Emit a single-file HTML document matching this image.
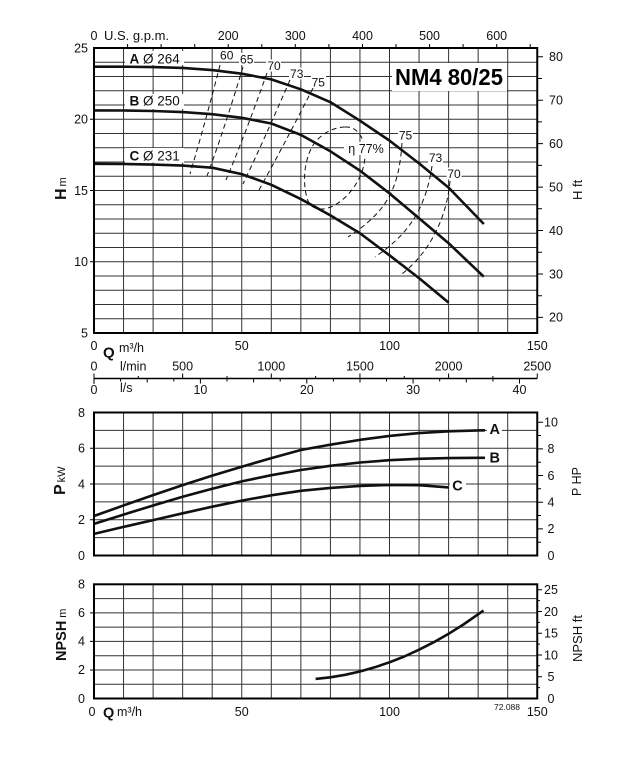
<!DOCTYPE html>
<html><head><meta charset="utf-8">
<style>
html,body{margin:0;padding:0;background:#fff;}
svg{display:block;font-family:"Liberation Sans",Arial,sans-serif;}
</style></head>
<body>
<svg width="626" height="776" viewBox="0 0 626 776" xmlns="http://www.w3.org/2000/svg">
<rect width="626" height="776" fill="#fff"/>

<!-- ===== GRIDS ===== -->
<g stroke="#333" stroke-width="1" fill="none">
<path d="M123.55 48V333M153.1 48V333M182.65 48V333M212.2 48V333M241.75 48V333M271.3 48V333M300.85 48V333M330.4 48V333M359.95 48V333M389.5 48V333M419.05 48V333M448.6 48V333M478.15 48V333M507.7 48V333"/>
<path d="M94 318.75H537M94 304.5H537M94 290.25H537M94 276H537M94 261.75H537M94 247.5H537M94 233.25H537M94 219H537M94 204.75H537M94 190.5H537M94 176.25H537M94 162H537M94 147.75H537M94 133.5H537M94 119.25H537M94 105H537M94 90.75H537M94 76.5H537M94 62.25H537"/>
<path d="M123.55 412.5V555.5M153.1 412.5V555.5M182.65 412.5V555.5M212.2 412.5V555.5M241.75 412.5V555.5M271.3 412.5V555.5M300.85 412.5V555.5M330.4 412.5V555.5M359.95 412.5V555.5M389.5 412.5V555.5M419.05 412.5V555.5M448.6 412.5V555.5M478.15 412.5V555.5M507.7 412.5V555.5"/>
<path d="M94 430.4H537M94 448.25H537M94 466.1H537M94 484H537M94 501.9H537M94 519.75H537M94 537.6H537"/>
<path d="M123.55 584.3V698.5M153.1 584.3V698.5M182.65 584.3V698.5M212.2 584.3V698.5M241.75 584.3V698.5M271.3 584.3V698.5M300.85 584.3V698.5M330.4 584.3V698.5M359.95 584.3V698.5M389.5 584.3V698.5M419.05 584.3V698.5M448.6 584.3V698.5M478.15 584.3V698.5M507.7 584.3V698.5"/>
<path d="M94 598.6H537M94 612.9H537M94 627.1H537M94 641.4H537M94 655.7H537M94 670H537M94 684.2H537"/>
</g>

<!-- ===== EFFICIENCY DASHED LINES ===== -->
<g stroke="#111" stroke-width="1" fill="none" stroke-dasharray="5 3.5">
<path d="M220,65 Q206,120 190,174"/>
<path d="M243,67 Q224,130 207,176"/>
<path d="M267,73 Q245,135 226,180"/>
<path d="M290,80 Q264,140 243,184"/>
<path d="M313,88 Q284,145 259,190"/>
<path d="M345,127 C358,126 366,140 365,157 C364,175 352,195 335,205 C322,212 310,210 307,198 C302,180 305,160 312,147 C318,136 332,127 345,127 Z"/>
<path d="M402,143 C399,185 390,210 348,237"/>
<path d="M432,166 C426,205 412,232 375,257"/>
<path d="M450,181 C447,215 432,250 402,274"/>
</g>

<!-- ===== WHITE LABEL BOXES ===== -->
<g fill="#fff">
<rect x="125" y="51" width="59" height="14"/>
<rect x="125" y="94" width="59" height="15"/>
<rect x="125" y="148" width="59" height="14.5"/>
<rect x="219" y="49" width="15" height="12"/>
<rect x="239" y="53" width="15" height="12"/>
<rect x="266" y="59.5" width="15" height="12"/>
<rect x="289" y="67.5" width="15" height="12"/>
<rect x="311" y="76" width="15" height="12"/>
<rect x="398" y="129" width="15" height="12"/>
<rect x="428" y="151.5" width="15" height="12"/>
<rect x="446.5" y="167.5" width="15" height="12"/>
<rect x="344" y="142" width="45" height="13"/>
<rect x="392" y="63" width="115" height="28"/>
<rect x="487" y="421" width="15" height="15"/>
<rect x="487" y="449" width="15" height="15"/>
<rect x="450" y="478" width="16" height="15"/>
</g>

<!-- ===== CURVES ===== -->
<g stroke="#111" stroke-width="2.6" fill="none" stroke-linejoin="round" stroke-linecap="butt">
<polyline points="94,66.67 123.55,66.7 153.1,67.1 182.65,67.95 212.2,70.1 241.75,73.7 271.3,79.35 300.85,89.3 330.4,102.15 359.95,120.7 389.5,140.6 419.05,163.4 448.6,187.65 478.15,218.15 483.8,224"/>
<polyline points="94,110.4 123.55,110.5 153.1,110.99 182.65,112.1 212.2,114.2 241.75,117.8 271.3,123.5 300.85,134.9 330.4,151.3 359.95,170.6 389.5,193.35 419.05,218.3 448.6,243.2 478.15,271.3 483.8,276.7"/>
<polyline points="94,163.85 123.55,164 153.1,164.6 182.65,165.6 212.2,167.7 241.75,174.1 271.3,184.8 300.85,199.05 330.4,215.4 359.95,233.25 389.5,255.35 419.05,278.1 448.6,302.6"/>

<polyline points="94,516 123.55,505.45 153.1,495.1 182.65,485.1 212.2,475.6 241.75,466.7 271.3,458.1 300.85,450 330.4,444.7 359.95,439.85 389.5,435.9 419.05,433.1 448.6,431.3 478.15,430.4 485,430.3"/>
<polyline points="94,523.9 123.55,514.6 153.1,505.5 182.65,496.8 212.2,488.7 241.75,481.4 271.3,475.2 300.85,470 330.4,465.8 359.95,462.5 389.5,460.2 419.05,458.8 448.6,458.1 478.15,457.8 485,457.8"/>
<polyline points="94,533.9 123.55,526.9 153.1,520.1 182.65,513.3 212.2,506.7 241.75,500.6 271.3,495.3 300.85,490.8 330.4,487.9 359.95,485.9 389.5,484.9 419.05,485.2 448.6,487.4"/>

<polyline points="315.6,678.94 330.4,677.3 345.2,674.8 359.95,671.5 374.7,667.3 389.5,662.3 404.3,656.5 419.05,649.7 433.8,642.2 448.6,633.8 463.4,624.5 483.5,610.6"/>
</g>

<!-- ===== FRAMES ===== -->
<g stroke="#000" stroke-width="2" fill="none">
<rect x="94" y="48" width="443.25" height="285"/>
<rect x="94" y="412.5" width="443.25" height="143"/>
<rect x="94" y="584.3" width="443.25" height="114.2"/>
</g>

<!-- ===== TICKS ===== -->
<g stroke="#000" stroke-width="1" fill="none">
<path d="M127.6 48V44M161.1 48V44M194.7 48V44M228.2 48V44M261.8 48V44M295.3 48V44M328.9 48V44M362.5 48V44M396 48V44M429.6 48V44M463.1 48V44M496.7 48V44M530.2 48V44"/>
<path d="M90 119.25H94M90 190.5H94M90 261.75H94"/>
<path d="M537 56.8H543M537 78.5H542M537 100.2H543M537 121.9H542M537 143.6H543M537 165.4H542M537 187.1H543M537 208.8H542M537 230.5H543M537 252.2H542M537 273.95H543M537 295.7H542M537 317.4H543"/>
<path d="M90 448.25H94M90 484H94M90 519.75H94"/>
<path d="M537 542.2H541M537 528.85H543M537 515.5H541M537 502.2H543M537 488.8H541M537 475.5H543M537 462.2H541M537 448.9H543M537 435.5H541M537 422.2H543"/>
<path d="M90 612.9H94M90 641.4H94M90 670H94"/>
<path d="M537 687.6H540M537 676.7H542M537 665.8H540M537 655H542M537 644.1H540M537 633.2H542M537 622.4H540M537 611.5H542M537 600.6H540M537 589.7H542"/>
</g>

<!-- middle Q axis -->
<g stroke="#000" fill="none">
<path d="M94 378.5H537.25" stroke-width="1.5"/>
<path stroke-width="1" d="M94 373.5V384M182.65 378.5V373.5M271.3 378.5V373.5M359.95 378.5V373.5M448.6 378.5V373.5M537.25 378.5V373.5M138.3 378.5V376M227 378.5V376M315.6 378.5V376M404.3 378.5V376M492.9 378.5V376M120.6 378.5V381.5M147.2 378.5V382.5M173.8 378.5V381.5M200.4 378.5V383.5M227 378.5V381.5M253.6 378.5V382.5M280.2 378.5V381.5M306.8 378.5V383.5M333.4 378.5V381.5M360 378.5V382.5M386.5 378.5V381.5M413.1 378.5V383.5M439.7 378.5V381.5M466.3 378.5V382.5M492.9 378.5V381.5M519.5 378.5V383.5"/>
</g>

<!-- ===== TEXT ===== -->
<g fill="#111" font-size="12.5">
<text x="94" y="40" text-anchor="middle">0</text>
<text x="104" y="40" font-size="13">U.S. g.p.m.</text>
<text x="228.2" y="40" text-anchor="middle">200</text>
<text x="295.3" y="40" text-anchor="middle">300</text>
<text x="362.5" y="40" text-anchor="middle">400</text>
<text x="429.6" y="40" text-anchor="middle">500</text>
<text x="496.7" y="40" text-anchor="middle">600</text>

<g text-anchor="end">
<text x="88" y="52.3">25</text>
<text x="88" y="123.5">20</text>
<text x="88" y="194.8">15</text>
<text x="88" y="266">10</text>
<text x="88" y="337.3">5</text>
</g>
<text x="549" y="61.1">80</text>
<text x="549" y="104.5">70</text>
<text x="549" y="147.9">60</text>
<text x="549" y="191.4">50</text>
<text x="549" y="234.8">40</text>
<text x="549" y="278.3">30</text>
<text x="549" y="321.7">20</text>

<text x="94" y="350" text-anchor="middle">0</text>
<text x="103" y="357.5" font-size="15" font-weight="bold">Q</text>
<text x="119" y="352" font-size="12.5">m³/h</text>
<text x="241.75" y="350" text-anchor="middle">50</text>
<text x="389.5" y="350" text-anchor="middle">100</text>
<text x="537.25" y="350" text-anchor="middle">150</text>

<text x="94" y="370.5" text-anchor="middle">0</text>
<text x="120" y="370.5">l/min</text>
<text x="182.65" y="370.5" text-anchor="middle">500</text>
<text x="271.3" y="370.5" text-anchor="middle">1000</text>
<text x="359.95" y="370.5" text-anchor="middle">1500</text>
<text x="448.6" y="370.5" text-anchor="middle">2000</text>
<text x="537.25" y="370.5" text-anchor="middle">2500</text>
<text x="94" y="394" text-anchor="middle">0</text>
<text x="120" y="392">l/s</text>
<text x="200.4" y="394" text-anchor="middle">10</text>
<text x="306.8" y="394" text-anchor="middle">20</text>
<text x="413.1" y="394" text-anchor="middle">30</text>
<text x="519.5" y="394" text-anchor="middle">40</text>

<g text-anchor="end">
<text x="85" y="416.8">8</text>
<text x="85" y="452.5">6</text>
<text x="85" y="488.3">4</text>
<text x="85" y="524">2</text>
<text x="85" y="559.8">0</text>
</g>
<g text-anchor="middle">
<text x="551" y="426.5">10</text>
<text x="551" y="453.2">8</text>
<text x="551" y="479.8">6</text>
<text x="551" y="506.5">4</text>
<text x="551" y="533.2">2</text>
<text x="551" y="559.8">0</text>
</g>

<g text-anchor="end">
<text x="85" y="588.6">8</text>
<text x="85" y="617.2">6</text>
<text x="85" y="645.7">4</text>
<text x="85" y="674.2">2</text>
<text x="85" y="702.8">0</text>
</g>
<g text-anchor="middle">
<text x="551" y="594">25</text>
<text x="551" y="615.8">20</text>
<text x="551" y="637.5">15</text>
<text x="551" y="659.3">10</text>
<text x="551" y="681">5</text>
<text x="551" y="702.8">0</text>
</g>

<text x="92" y="716" text-anchor="middle">0</text>
<text x="103" y="717.5" font-size="14.5" font-weight="bold">Q</text>
<text x="117" y="716">m³/h</text>
<text x="241.75" y="716" text-anchor="middle">50</text>
<text x="389.5" y="716" text-anchor="middle">100</text>
<text x="537.25" y="716" text-anchor="middle">150</text>
<text x="494" y="710" font-size="8.5">72.088</text>

<text x="129.5" y="63.7" font-size="13.5"><tspan font-weight="bold">A</tspan> Ø 264</text>
<text x="129.5" y="105.7" font-size="13.5"><tspan font-weight="bold">B</tspan> Ø 250</text>
<text x="129.5" y="160.7" font-size="13.5"><tspan font-weight="bold">C</tspan> Ø 231</text>

<g text-anchor="middle" font-size="12">
<text x="226.7" y="59.3">60</text>
<text x="246.7" y="63.3">65</text>
<text x="274" y="69.8">70</text>
<text x="296.7" y="78">73</text>
<text x="318.3" y="86.5">75</text>
<text x="405.5" y="139.3">75</text>
<text x="435.5" y="161.8">73</text>
<text x="454" y="177.8">70</text>
</g>
<text x="366" y="153" text-anchor="middle" font-size="12.5">η 77%</text>

<text x="395" y="85" font-size="23" font-weight="bold" textLength="108" lengthAdjust="spacingAndGlyphs" fill="#000">NM4 80/25</text>

<text x="489.5" y="434.2" font-size="14.5" font-weight="bold">A</text>
<text x="489.5" y="462.3" font-size="14.5" font-weight="bold">B</text>
<text x="452.3" y="490.7" font-size="14.5" font-weight="bold">C</text>

<text transform="translate(66,200) rotate(-90)"><tspan font-size="16" font-weight="bold">H</tspan><tspan font-size="11" dx="2">m</tspan></text>
<text transform="translate(582,200) rotate(-90)" font-size="13">H ft</text>
<text transform="translate(65,495) rotate(-90)"><tspan font-size="16" font-weight="bold">P</tspan><tspan font-size="11" dx="2">kW</tspan></text>
<text transform="translate(581,496) rotate(-90)" font-size="12.5">P HP</text>
<text transform="translate(66,661) rotate(-90)"><tspan font-size="14.5" font-weight="bold">NPSH</tspan><tspan font-size="11" dx="3">m</tspan></text>
<text transform="translate(582,662) rotate(-90)" font-size="13">NPSH ft</text>
</g>
</svg>
</body></html>
